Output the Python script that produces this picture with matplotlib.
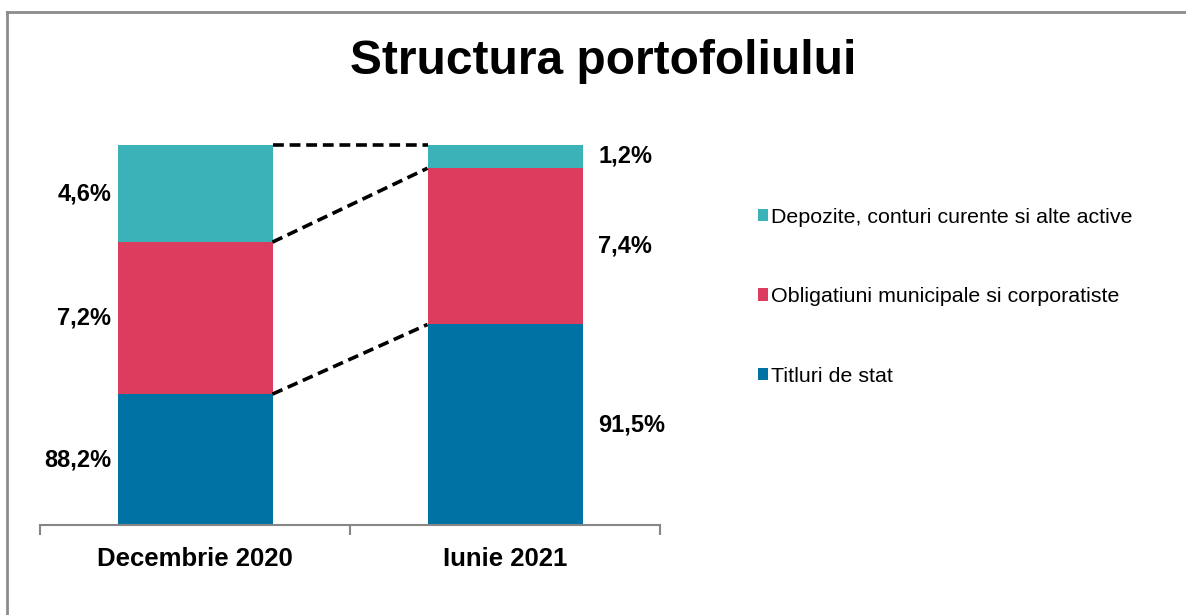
import numpy as np
import matplotlib.pyplot as plt
from matplotlib.lines import Line2D

plt.rcParams['font.family'] = ['Liberation Sans', 'DejaVu Sans']

categories = ['Decembrie 2020', 'Iunie 2021']
series = ['Titluri de stat', 'Obligatiuni municipale si corporatiste',
          'Depozite, conturi curente si alte active']
titluri = [88.2, 91.5]
obligatiuni = [7.2, 7.4]
depozite = [4.6, 1.2]
labels = [['88,2%', '91,5%'], ['7,2%', '7,4%'], ['4,6%', '1,2%']]
colors = ['#0072A3', '#DC3D5E', '#3AB2B8']

values = np.array([titluri, obligatiuni, depozite])
bottoms = np.vstack([np.zeros(2), np.cumsum(values, axis=0)[:-1]])
tops = np.cumsum(values, axis=0)
ymin, ymax = 82, 100

W, H = 1186, 615
fig = plt.figure(figsize=(W / 100, H / 100), dpi=100)
ax = fig.add_axes([40 / W, (H - 525) / H, 620 / W, 380 / H])

x = np.arange(len(categories))
width = 0.5
handles = []
for i in range(3):
    b = ax.bar(x, values[i], width, bottom=bottoms[i], color=colors[i],
               label=series[i], zorder=2)
    handles.append(b)

# dashed connectors between bar segments (capped at the axis max, like Excel)
for i in range(3):
    y_conn = np.minimum(tops[i], ymax)
    ax.plot([x[0] + width / 2, x[1] - width / 2], y_conn,
            color='black', linestyle=(0, (3, 1.6)), linewidth=2.6, zorder=3,
            clip_on=False)

# value labels: left of first bar, right of second bar (centred on visible part)
for i in range(3):
    mid = (np.maximum(bottoms[i], ymin) + tops[i]) / 2
    ax.text(x[0] - width / 2 - 0.02, mid[0], labels[i][0], ha='right', va='center',
            fontsize=17, fontweight='bold')
    ax.text(x[1] + width / 2 + 0.05, mid[1], labels[i][1], ha='left', va='center',
            fontsize=17, fontweight='bold')

ax.set_ylim(ymin, ymax)
ax.set_xlim(-0.5, 1.5)
ax.set_yticks([])
for s in ['top', 'right', 'left']:
    ax.spines[s].set_visible(False)
ax.spines['bottom'].set_color('#868686')
ax.spines['bottom'].set_linewidth(1.5)
ax.set_xticks(x)
ax.set_xticklabels(categories, fontsize=18.5, fontweight='bold')
ax.tick_params(axis='x', which='major', length=0, pad=16)
ax.set_xticks([-0.5, 0.5, 1.5], minor=True)
ax.tick_params(axis='x', which='minor', length=7, width=1.5, color='#868686', direction='out')

fig.text(603 / W, 1 - 62 / H, 'Structura portofoliului', ha='center', va='center',
         fontsize=34.5, fontweight='bold')

leg = fig.legend(handles[::-1], series[::-1], loc='upper left',
                 bbox_to_anchor=(749 / W, 1 - 199 / H), frameon=False,
                 fontsize=15.4, handlelength=0.5, handleheight=0.5,
                 handletextpad=0.15, labelspacing=2.83, borderaxespad=0)

# outer chart frame
fig.add_artist(Line2D([7 / W, 7 / W], [0, 1 - 12 / H], color='#8c8c8c', linewidth=2))
fig.add_artist(Line2D([7 / W, 1], [1 - 12 / H, 1 - 12 / H], color='#8c8c8c', linewidth=2))

plt.savefig('out.png', dpi=100)
